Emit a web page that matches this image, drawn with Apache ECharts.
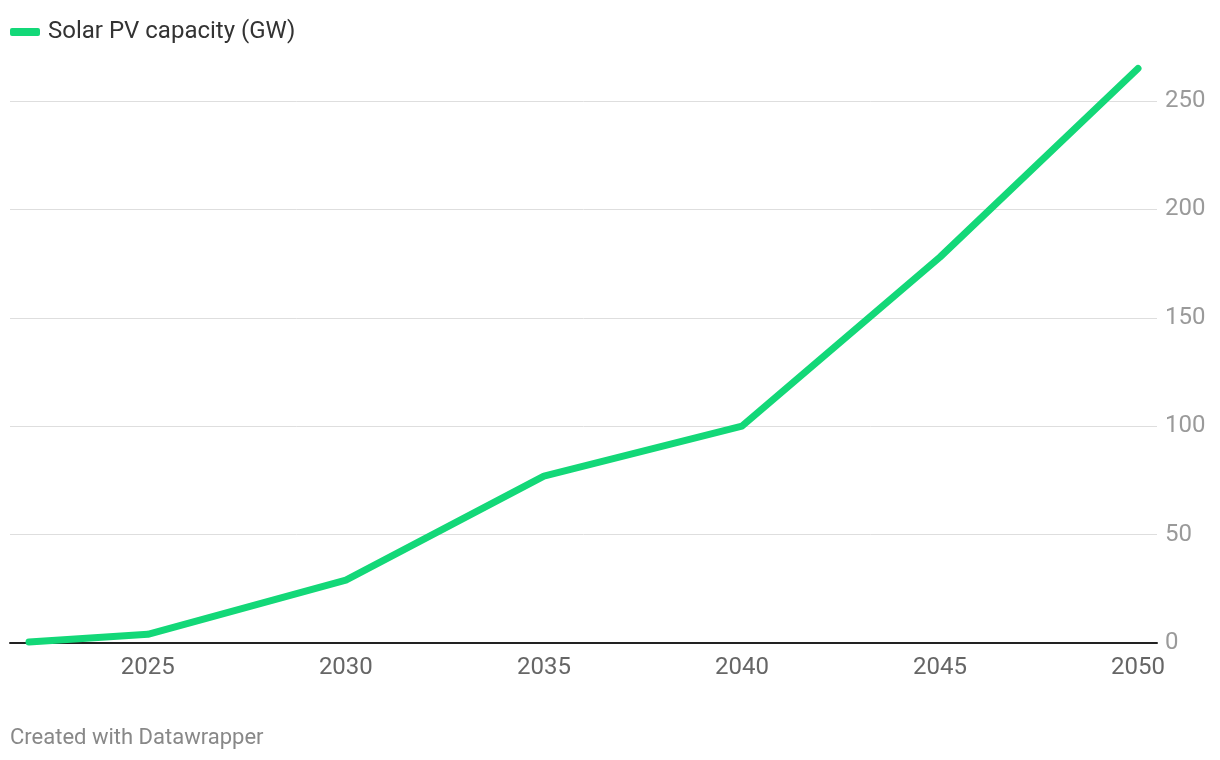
<!DOCTYPE html>
<html><head><meta charset="utf-8">
<script src="https://cdn.jsdelivr.net/npm/echarts@6/dist/echarts.min.js"></script>
<style>html,body{margin:0;padding:0;background:#fff}#c{width:1220px;height:760px}</style>
</head><body><div id="c"></div>
<script>
const years = [2022, 2025, 2030, 2035, 2040, 2045, 2050];
const solarPV = [0.5, 4, 29, 77, 100, 178, 265];
const xTickLabels = [2025, 2030, 2035, 2040, 2045, 2050];
const yTickLabels = [0, 50, 100, 150, 200, 250];
const seriesName = 'Solar PV capacity (GW)';

const chart = echarts.init(document.getElementById('c'));
chart.setOption({
  animation: false,
  backgroundColor: '#fff',
  textStyle: { fontFamily: 'Roboto' },
  legend: {
    left: 10, top: 20, padding: 0,
    itemWidth: 30, itemHeight: 8,
    icon: 'roundRect',
    data: [{ name: seriesName, itemStyle: { color: '#13d878' } }],
    textStyle: { fontSize: 24, color: '#333', fontFamily: 'Roboto', padding: [0, 0, 0, 3] }
  },
  grid: { left: 10, right: 63, top: 101, bottom: 117, containLabel: false },
  xAxis: {
    type: 'value',
    min: 2021.52, max: 2050.48,
    axisLine: { show: true, lineStyle: { color: '#222', width: 2 } },
    axisTick: { show: false },
    splitLine: { show: false },
    axisLabel: {
      customValues: xTickLabels,
      fontSize: 24, color: '#666', margin: 13,
      formatter: v => String(v)
    }
  },
  yAxis: {
    type: 'value',
    position: 'right',
    min: 0, max: 250, interval: 50,
    axisLine: { show: false },
    axisTick: { show: false },
    splitLine: { show: true, lineStyle: { color: '#dedede', width: 1 } },
    axisLabel: {
      customValues: yTickLabels,
      fontSize: 24, color: '#9a9a9a', margin: 8,
      padding: [4, 0, 0, 0]
    }
  },
  series: [{
    name: seriesName,
    type: 'line',
    data: years.map((y, i) => [y, solarPV[i]]),
    clip: false,
    showSymbol: false,
    symbol: 'none',
    color: '#13d878',
    lineStyle: { color: '#13d878', width: 7, cap: 'round', join: 'round' },
    z: 5
  }],
  graphic: [{
    type: 'text', left: 10, top: 727,
    style: { text: 'Created with Datawrapper', fontSize: 22, fill: '#888', fontFamily: 'Roboto' }
  }]
});
</script></body></html>
